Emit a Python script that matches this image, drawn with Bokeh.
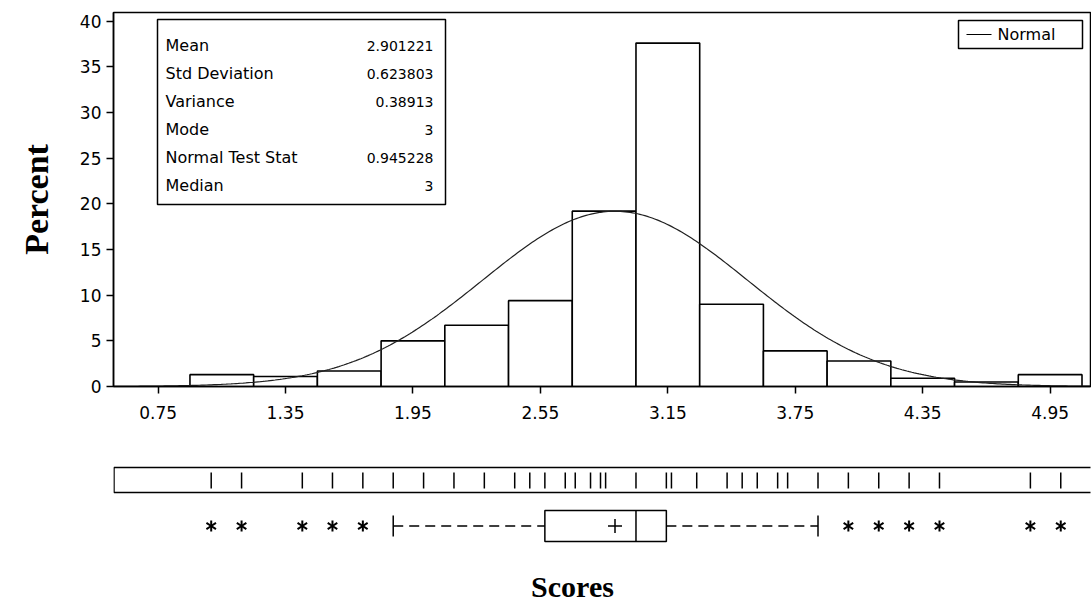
import numpy as np
from bokeh.plotting import figure
from bokeh.layouts import column
from bokeh.models import Range1d, FixedTicker
from bokeh.core.properties import value
from bokeh.embed import file_html
from bokeh.resources import INLINE

# ---- data -------------------------------------------------------------
bin_left = [0.9, 1.2, 1.5, 1.8, 2.1, 2.4, 2.7, 3.0, 3.3, 3.6, 3.9, 4.2, 4.5, 4.8]
bin_right = [1.2, 1.5, 1.8, 2.1, 2.4, 2.7, 3.0, 3.3, 3.6, 3.9, 4.2, 4.5, 4.8, 5.1]
percent = [1.3, 1.1, 1.7, 5.0, 6.7, 9.4, 19.2, 37.6, 9.0, 3.9, 2.8, 0.9, 0.5, 1.3]

x_ticks = [0.75, 1.35, 1.95, 2.55, 3.15, 3.75, 4.35, 4.95]
y_ticks = [0, 5, 10, 15, 20, 25, 30, 35, 40]

stat_names = ["Mean", "Std Deviation", "Variance", "Mode", "Normal Test Stat", "Median"]
stat_values = ["2.901221", "0.623803", "0.38913", "3", "0.945228", "3"]

mean_score = 2.901221
std_score = 0.623803
bin_width = 0.3

# distinct observed scores (rug)
rug_scores = [1.0, 1.143, 1.429, 1.571, 1.714, 1.857, 2.0, 2.143, 2.286, 2.429,
              2.5, 2.571, 2.667, 2.714, 2.786, 2.833, 2.857, 3.0, 3.143, 3.167,
              3.286, 3.429, 3.5, 3.571, 3.667, 3.714, 3.857, 4.0, 4.143, 4.286,
              4.429, 4.857, 5.0]

# box plot summary
q1, median, q3 = 2.571, 3.0, 3.143
whisker_low, whisker_high = 1.857, 3.857
outliers = [1.0, 1.143, 1.429, 1.571, 1.714, 4.0, 4.143, 4.286, 4.429, 4.857, 5.0]

# ---- geometry helpers --------------------------------------------------
W = 1091
H1, H2 = 440, 165
L, R = 113, 1090          # frame left/right in canvas px
T, B = 12, 386            # frame top/bottom in canvas px (top figure)
X0, X1 = 0.54, 5.14
Y1 = 40.95

def fx(px):
    return X0 + (px - L) * (X1 - X0) / (R - L)

def fy(py):
    return (B - py) * Y1 / (B - T)

FONT = "DejaVu Sans"
SERIF = "Liberation Serif"

x_range = Range1d(X0, X1)

# ---- histogram ---------------------------------------------------------
p = figure(width=W, height=H1, x_range=x_range, y_range=Range1d(0, Y1),
           output_backend="svg", toolbar_location=None,
           min_border_left=L, min_border_right=W - R,
           min_border_top=T, min_border_bottom=H1 - B)
p.xgrid.grid_line_color = None
p.ygrid.grid_line_color = None
p.outline_line_color = "black"
p.outline_line_width = 1.5

for ax in (p.xaxis[0], p.yaxis[0]):
    ax.axis_line_color = "black"
    ax.axis_line_width = 1.5
    ax.major_tick_line_color = "black"
    ax.major_tick_line_width = 1.5
    ax.major_tick_in = 0
    ax.major_tick_out = 7
    ax.minor_tick_line_color = None
    ax.major_label_text_font = FONT
    ax.major_label_text_font_size = "17px"
    ax.major_label_text_color = "black"

p.xaxis.ticker = FixedTicker(ticks=x_ticks)
p.xaxis.major_label_overrides = {t: f"{t:.2f}" for t in x_ticks}
p.xaxis.major_label_standoff = 12
p.yaxis.ticker = FixedTicker(ticks=y_ticks)
p.yaxis.major_label_standoff = 5
p.yaxis.axis_label = "Percent"
p.yaxis.axis_label_text_font = SERIF
p.yaxis.axis_label_text_font_style = "bold"
p.yaxis.axis_label_text_font_size = "34px"
p.yaxis.axis_label_text_color = "black"
p.yaxis.axis_label_standoff = 22

p.quad(left=bin_left, right=bin_right, bottom=0, top=percent,
       fill_color="white", line_color="black", line_width=1.6)

# fitted normal curve, scaled to percent per bin
xs = np.linspace(X0, X1, 400)
ys = 100 * bin_width * np.exp(-0.5 * ((xs - mean_score) / std_score) ** 2) / (std_score * np.sqrt(2 * np.pi))
p.line(xs, ys, line_color="#202020", line_width=1.2)

# summary statistics inset
p.quad(left=fx(157), right=fx(445), top=fy(19), bottom=fy(204),
       fill_color="white", line_color="black", line_width=1.5)
row_y = [fy(45 + 28 * i) for i in range(len(stat_names))]
p.text(x=[fx(165)] * len(stat_names), y=row_y, text=stat_names,
       text_font=value(FONT), text_font_size="16px", text_color="black",
       text_align="left", text_baseline="middle")
p.text(x=[fx(433)] * len(stat_values), y=row_y, text=stat_values,
       text_font=value(FONT), text_font_size="14px", text_color="black",
       text_align="right", text_baseline="middle")

# legend
p.quad(left=fx(958), right=fx(1082), top=fy(20), bottom=fy(48),
       fill_color="white", line_color="black", line_width=1.5)
p.line([fx(966), fx(991)], [fy(34), fy(34)], line_color="black", line_width=1.2)
p.text(x=[fx(997)], y=[fy(34)], text=["Normal"], text_font=value(FONT),
       text_font_size="16px", text_color="black", text_baseline="middle")

# ---- rug and box plot --------------------------------------------------
q = figure(width=W, height=H2, x_range=x_range, y_range=Range1d(H2, 0),
           output_backend="svg", toolbar_location=None,
           x_axis_type=None, y_axis_type=None,
           min_border_left=L, min_border_right=W - R,
           min_border_top=0, min_border_bottom=0)
q.outline_line_color = None

# rug frame and ticks (y measured from top of this panel)
q.quad(left=fx(113.5), right=fx(1100), top=27, bottom=52,
       fill_color=None, line_color="black", line_width=1.5)
q.segment(x0=rug_scores, y0=[32] * len(rug_scores),
          x1=rug_scores, y1=[48] * len(rug_scores),
          line_color="black", line_width=1.5)

yc = 85.5
q.quad(left=[q1], right=[q3], top=[70], bottom=[101],
       fill_color=None, line_color="black", line_width=1.5)
q.segment(x0=[median], y0=[70], x1=[median], y1=[101], line_color="black", line_width=1.5)
q.segment(x0=[whisker_low, q3], y0=[yc, yc], x1=[q1, whisker_high], y1=[yc, yc],
          line_color="black", line_width=1.3, line_dash="10 6")
q.segment(x0=[whisker_low, whisker_high], y0=[75, 75],
          x1=[whisker_low, whisker_high], y1=[96, 96], line_color="black", line_width=1.5)
q.scatter(x=[mean_score], y=[yc], marker="cross", size=14, line_color="black", line_width=1.5)
q.scatter(x=outliers, y=[yc] * len(outliers), marker="y", size=11,
          line_color="black", line_width=2)
q.scatter(x=outliers, y=[yc] * len(outliers), marker="y", size=11, angle=np.pi,
          line_color="black", line_width=2)

q.text(x=[fx(572)], y=[146], text=["Scores"], text_font=value(SERIF),
       text_font_style="bold", text_font_size="30px", text_color="black",
       text_align="center", text_baseline="middle")

layout = column(p, q, spacing=0)
open("out.html", "w").write(file_html(layout, INLINE))
